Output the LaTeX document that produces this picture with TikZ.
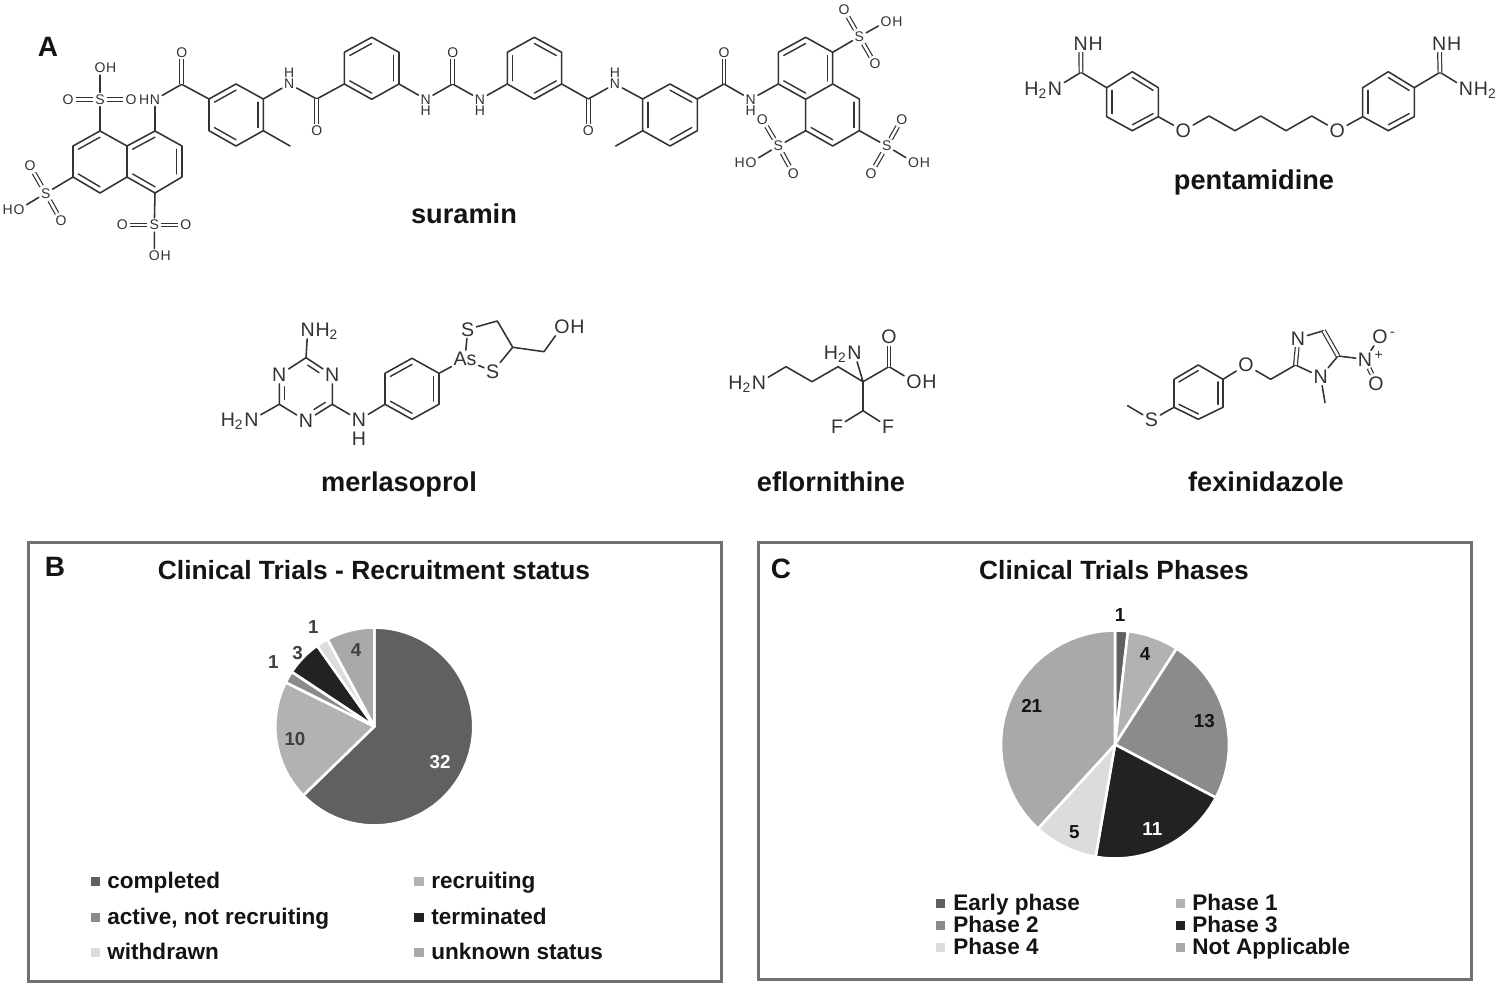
\documentclass[tikz,border=0pt]{standalone}
\usepackage{fontspec}
\setmainfont{Liberation Sans}
\usetikzlibrary{calc}
\definecolor{bondcol}{HTML}{333333}
\definecolor{txtcol}{HTML}{141414}
\definecolor{framecol}{HTML}{707070}
\definecolor{pdark}{HTML}{606060}
\definecolor{pmid}{HTML}{8B8B8B}
\definecolor{pblack}{HTML}{222222}
\definecolor{plight}{HTML}{DCDCDC}
\definecolor{pgrey}{HTML}{A9A9A9}
\definecolor{plgrey}{HTML}{B2B2B2}
\tikzset{
  bondst/.style={draw=bondcol,line width=.78pt,line cap=round,line join=round},
  dblb/.style={draw=bondcol,double=white,double distance=1.25pt,line width=.6pt},
  inner/.style={draw=bondcol,line width=.7pt,line cap=round},
  las/.style={inner sep=.9pt,text=bondcol,font=\fontsize{7}{8}\selectfont},
  lal/.style={inner sep=.9pt,text=bondcol,font=\fontsize{9.8}{11}\selectfont},
  sufs/.style={las,anchor=base west,inner sep=0pt,xshift=-.9pt},
  pres/.style={las,anchor=base east,inner sep=0pt,xshift=.9pt},
  sufl/.style={lal,anchor=base west,inner sep=0pt,xshift=-.9pt},
  prel/.style={lal,anchor=base east,inner sep=0pt,xshift=.9pt},
  drugname/.style={text=txtcol,anchor=base,inner sep=0pt,font=\bfseries\fontsize{13.6}{16}\selectfont},
  panelletter/.style={text=txtcol,anchor=base,inner sep=0pt,font=\bfseries\fontsize{14}{16}\selectfont},
  paneltitle/.style={text=txtcol,anchor=base,inner sep=0pt,font=\bfseries\fontsize{13.18}{16}\selectfont},
  frame/.style={draw=framecol,line width=1.5pt,fill=white},
  legtext/.style={text=txtcol,anchor=base west,inner sep=0pt,font=\bfseries\fontsize{11.27}{14}\selectfont},
  swatch/.style={minimum size=4.6pt,inner sep=0pt,draw=none},
  plabel/.style={inner sep=0pt,font=\bfseries\fontsize{9.4}{11}\selectfont},
  pieslice/.style={draw=white,line width=1.3pt,line join=round}
}
\newcommand{\co}[1]{\foreach \n/\x/\y in {#1}{\coordinate (\n) at (\x,\y);}}
% inner aromatic line of the bond a-b, towards ring centre c
\newcommand{\arom}[3]{\draw[inner] ($(#1)!.8!(#2)$) -- ($(#1)!.8!(#3)$);}
\newcommand{\aromp}[5]{\draw[inner] ($($(#1)!.8!(#2)$)!#4!($(#1)!.8!(#3)$)$) -- ($($(#1)!.8!(#2)$)!#5!($(#1)!.8!(#3)$)$);}
\newcommand{\slice}[6]{\fill[#6,pieslice] (#1,#2) -- plot[domain=#4:#5,samples=50] ({#1+#3*sin(\x)},{#2-#3*cos(\x)}) -- cycle;}
\begin{document}
\begin{tikzpicture}[x=.5pt,y=-.5pt]
\useasboundingbox (0,0) rectangle (1500,988);
\fill[white] (0,0) rectangle (1500,988);

% ---------- suramin, left naphthalene
\co{a1/155/131,a2/182/146,a3/182/177,a4/155/193,a5/127/177,a6/127/146,a7/100/131,a8/73/146,a9/73/177,a10/100/193,ca/155/162,cb/100/162}
\draw[bondst] (a1)--(a2)--(a3)--(a4)--(a5)--(a6)--(a1) (a6)--(a7)--(a8)--(a9)--(a10)--(a5);
\arom{ca}{a1}{a6}\arom{ca}{a2}{a3}\arom{ca}{a4}{a5}\arom{cb}{a7}{a8}\arom{cb}{a9}{a10}
\node[las] (s1) at (100,99.5) {S};
\node[las] (s1l) at (68,99.5) {O};
\node[las] (s1r) at (131,99.5) {O};
\node[las] (s1o) at (100,68) {O};
\node[sufs] (s1h) at (s1o.base east) {H};
\draw[bondst] (a7)--(s1) (s1)--(s1o);
\draw[dblb] (s1)--(s1l); \draw[dblb] (s1)--(s1r);
\node[las] (s2) at (45.7,193.3) {S};
\node[las] (s2u) at (30,166) {O};
\node[las] (s2d) at (61,220.7) {O};
\node[las] (s2o) at (19,209.3) {O};
\node[pres] (s2h) at (s2o.base west) {H};
\draw[bondst] (a9)--(s2) (s2)--(s2o);
\draw[dblb] (s2)--(s2u); \draw[dblb] (s2)--(s2d);
\node[las] (s3) at (154.3,225) {S};
\node[las] (s3l) at (122.3,225) {O};
\node[las] (s3r) at (185.7,225) {O};
\node[las] (s3o) at (154.3,255.7) {O};
\node[sufs] (s3h) at (s3o.base east) {H};
\draw[bondst] (a4)--(s3) (s3)--(s3o);
\draw[dblb] (s3)--(s3l); \draw[dblb] (s3)--(s3r);
\node[las] (n1) at (155,99.5) {N};
\node[pres] (n1h) at (n1.base west) {H};
\co{c1/181.7/84.3,b1/209/99,b2/236/84,b3/263.3/99,b4/263.3/130.7,b5/236/146,b6/209/130.7,cc/236/115,m1/290/146}
\node[las] (o1) at (181.7,52.3) {O};
\draw[bondst] (a1)--(n1) (n1)--(c1)--(b1)--(b2)--(b3)--(b4)--(b5)--(b6)--(b1) (b4)--(m1);
\draw[dblb] (c1)--(o1);
\arom{cc}{b1}{b2}\arom{cc}{b3}{b4}\arom{cc}{b5}{b6}
\node[las] (n2) at (289.3,84) {N};
\node[las] (n2h) at (289.3,72.7) {H};
\co{c2/316.7/99,d1/344.3/84,d2/344.3/52.3,d3/371.7/37.3,d4/399/52.3,d5/399/84,d6/371.7/99.3,cd/371.7/68.3}
\node[las] (o2) at (316.7,130.7) {O};
\draw[bondst] (b3)--(n2) (n2)--(c2)--(d1)--(d2)--(d3)--(d4)--(d5)--(d6)--(d1);
\draw[dblb] (c2)--(o2);
\arom{cd}{d2}{d3}\arom{cd}{d4}{d5}\arom{cd}{d6}{d1}
\node[las] (n3) at (425.7,99.3) {N};
\node[las] (n3h) at (425.7,111) {H};
\coordinate (c3) at (452.7,84);
\node[las] (o3) at (452.7,52.3) {O};
\node[las] (n4) at (480,99.3) {N};
\node[las] (n4h) at (480,111) {H};
\draw[bondst] (d5)--(n3) (n3)--(c3)--(n4);
\draw[dblb] (c3)--(o3);
% ---------- suramin, right half
\co{e1/507.3/84,e2/507.3/52.3,e3/534.3/37.3,e4/561.7/52.3,e5/561.7/84,e6/534.3/99.3,ce/534.5/68.3,c4/588.3/99}
\node[las] (o4) at (588.3,130.7) {O};
\draw[bondst] (n4)--(e1)--(e2)--(e3)--(e4)--(e5)--(e6)--(e1) (e5)--(c4);
\draw[dblb] (c4)--(o4);
\arom{ce}{e1}{e2}\arom{ce}{e3}{e4}\arom{ce}{e5}{e6}
\node[las] (n5) at (615,84) {N};
\node[las] (n5h) at (615,72.7) {H};
\co{f1/642.7/99,f2/670/84,f3/697.3/99,f4/697.3/130.7,f5/670/146,f6/642.7/130.7,cf/670/115,m2/615.7/146,c5/724/84}
\node[las] (o5) at (724,52.3) {O};
\draw[bondst] (c4)--(n5) (n5)--(f1)--(f2)--(f3)--(f4)--(f5)--(f6)--(f1) (f6)--(m2) (f3)--(c5);
\draw[dblb] (c5)--(o5);
\arom{cf}{f6}{f1}\arom{cf}{f2}{f3}\arom{cf}{f4}{f5}
\node[las] (n6) at (750.7,99.3) {N};
\node[las] (n6h) at (750.7,111) {H};
\co{g1/778.3/84,g2/778.3/52.3,g3/805.7/37.3,g4/832.7/52.3,g5/832.7/84,g6/805.7/99.3,g7/859.3/99,g8/859.3/130.7,g9/832.7/146,g10/805.7/130.7,cg/805.5/68.3,ch/832.7/115}
\draw[bondst] (c5)--(n6) (n6)--(g1)--(g2)--(g3)--(g4)--(g5)--(g6)--(g1) (g5)--(g7)--(g8)--(g9)--(g10)--(g6);
\arom{cg}{g2}{g3}\arom{cg}{g4}{g5}\arom{cg}{g6}{g1}\arom{ch}{g7}{g8}\arom{ch}{g9}{g10}
\node[las] (s4) at (859.3,36.7) {S};
\node[las] (s4u) at (844,10) {O};
\node[las] (s4d) at (875,64) {O};
\node[las] (s4o) at (886,21.7) {O};
\node[sufs] (s4h) at (s4o.base east) {H};
\draw[bondst] (g4)--(s4) (s4)--(s4o);
\draw[dblb] (s4)--(s4u); \draw[dblb] (s4)--(s4d);
\node[las] (s5) at (778.3,146) {S};
\node[las] (s5u) at (762.3,119.3) {O};
\node[las] (s5d) at (793.3,173.3) {O};
\node[las] (s5o) at (751,162.3) {O};
\node[pres] (s5h) at (s5o.base west) {H};
\draw[bondst] (g10)--(s5) (s5)--(s5o);
\draw[dblb] (s5)--(s5u); \draw[dblb] (s5)--(s5d);
\node[las] (s6) at (886.7,146) {S};
\node[las] (s6u) at (901.7,119.3) {O};
\node[las] (s6d) at (871,173.3) {O};
\node[las] (s6o) at (913.5,162.3) {O};
\node[sufs] (s6h) at (s6o.base east) {H};
\draw[bondst] (g8)--(s6) (s6)--(s6o);
\draw[dblb] (s6)--(s6u); \draw[dblb] (s6)--(s6d);

% ---------- pentamidine
\co{p1/1106.7/87.7,p2/1132.3/71.7,p3/1158.3/87.7,p4/1158.3/116.7,p5/1132.3/130.7,p6/1106.7/116.7,cp/1132.5/101.2,pc/1081/72.3}
\co{q1/1362.7/116.7,q2/1362.7/87.7,q3/1388.3/71.7,q4/1414.3/87.7,q5/1414.3/116.7,q6/1388.3/130.7,cq/1388.5/101.2,qc/1440/72.3}
\co{ch1/1209/116,ch2/1235/130.7,ch3/1260.7/116,ch4/1286/130.7,ch5/1311.7/116}
\node[lal] (pn1) at (1080.7,43.3) {N};
\node[sufl] (pn1h) at (pn1.base east) {H};
\node[lal] (pn2) at (1055,88.3) {N};
\node[prel] (pn2h) at (pn2.base west) {H\textsubscript{2}};
\node[lal] (po1) at (1183.3,130.7) {O};
\node[lal] (po2) at (1337.3,130.7) {O};
\node[lal] (qn1) at (1439.3,43.3) {N};
\node[sufl] (qn1h) at (qn1.base east) {H};
\node[lal] (qn2) at (1466,88.3) {N};
\node[sufl] (qn2h) at (qn2.base east) {H\textsubscript{2}};
\draw[bondst] (pn2)--(pc)--(p1)--(p2)--(p3)--(p4)--(p5)--(p6)--(p1) (p4)--(po1) (po1)--(ch1)--(ch2)--(ch3)--(ch4)--(ch5)--(po2) (po2)--(q1)--(q2)--(q3)--(q4)--(q5)--(q6)--(q1) (q4)--(qc)--(qn2);
\draw[dblb] (pc)--(pn1); \draw[dblb] (qc)--(qn1);
\arom{cp}{p1}{p6}\arom{cp}{p2}{p3}\arom{cp}{p4}{p5}
\arom{cq}{q1}{q2}\arom{cq}{q3}{q4}\arom{cq}{q5}{q6}

% ---------- merlasoprol
\co{t1/306/357.7,t3/332.3/404.3,t5/279.3/404.3,ct/306/389.5}
\node[lal] (t2) at (332.3,375) {N};
\node[lal] (t4) at (306,420.7) {N};
\node[lal] (t6) at (279.3,375) {N};
\node[lal] (tn1) at (307.7,330) {N};
\node[sufl] (tn1h) at (tn1.base east) {H\textsubscript{2}};
\node[lal] (tn2) at (251.5,420) {N};
\node[prel] (tn2h) at (tn2.base west) {H\textsubscript{2}};
\node[lal] (tn3) at (359,420) {N};
\node[lal] (tn3h) at (359,439) {H};
\co{u1/385/404.3,u2/385/373.3,u3/412/358.3,u4/439/373.3,u5/439/404.3,u6/412/419.3,cu/412/389}
\node[lal] (as) at (465,359.3) {As};
\node[lal] (ss1) at (467.7,329.3) {S};
\node[lal] (ss2) at (492.7,371.7) {S};
\co{v1/497.3/321,v2/512.7/347.3,v3/544/351.7}
\node[lal] (vo) at (562,326.7) {O};
\node[sufl] (voh) at (vo.base east) {H};
\draw[bondst] (tn1)--(t1) (t1)--(t2) (t2)--(t3) (t3)--(t4) (t4)--(t5) (t5)--(t6) (t6)--(t1);
\draw[bondst] (t5)--(tn2) (t3)--(tn3) (tn3)--(u1)--(u2)--(u3)--(u4)--(u5)--(u6)--(u1) (u4)--(as) (as)--(ss1) (as)--(ss2) (ss1)--(v1)--(v2)--(ss2) (v2)--(v3)--(vo);
\aromp{ct}{t1}{t2}{.08}{.62}\aromp{ct}{t3}{t4}{.08}{.62}\aromp{ct}{t5}{t6}{.08}{.62}
\arom{cu}{u2}{u3}\arom{cu}{u4}{u5}\arom{cu}{u6}{u1}

% ---------- eflornithine
\node[lal] (en1) at (759,382.7) {N};
\node[prel] (en1h) at (en1.base west) {H\textsubscript{2}};
\co{e1a/786/366.7,e2a/812/381.7,e3a/838/366.7,e4a/863/381.7,e5a/889/366.7,e6a/863/410.7}
\node[lal] (en2) at (854.5,353) {N};
\node[prel] (en2h) at (en2.base west) {H\textsubscript{2}};
\node[lal] (eo1) at (889,337) {O};
\node[lal] (eo2) at (914,381.7) {O};
\node[sufl] (eo2h) at (eo2.base east) {H};
\node[lal] (ef1) at (837,426.7) {F};
\node[lal] (ef2) at (888,426.7) {F};
\draw[bondst] (en1)--(e1a)--(e2a)--(e3a)--(e4a)--(e5a)--(eo2) (en2)--(e4a)--(e6a)--(ef1) (e6a)--(ef2);
\draw[dblb] (e5a)--(eo1);

% ---------- fexinidazole
\node[lal] (fs) at (1151.5,420) {S};
\coordinate (fm) at (1127.6,405.7);
\co{h1/1174/407.3,h2/1174/379.3,h3/1198.3/365,h4/1223/379.3,h5/1223/407.3,h6/1198.3/419.3,ch6/1198.5/392.5,fc1/1270.7/379.3,fc2/1295.5/365,fc3/1323.6/330.7,fc4/1338/356,fm2/1325/402.7}
\node[lal] (fo) at (1246,365) {O};
\node[lal] (fn1) at (1298,338.3) {N};
\node[lal] (fn2) at (1320.6,376.7) {N};
\node[lal] (fn3) at (1365,359.3) {N};
\node[las,anchor=base west,inner sep=0pt] (fplus) at ([yshift=3.5pt]fn3.base east) {+};
\node[lal] (fo1) at (1380,336.7) {O};
\node[las,anchor=base west,inner sep=0pt] (fminus) at ([yshift=3.5pt]fo1.base east) {-};
\node[lal] (fo2) at (1376,383.3) {O};
\draw[bondst] (fm)--(fs) (fs)--(h1)--(h2)--(h3)--(h4)--(h5)--(h6)--(h1) (h4)--(fo) (fo)--(fc1)--(fc2)--(fn2) (fn2)--(fc4)--(fn3) (fn2)--(fm2) (fn1)--(fc3);
\draw[dblb] (fc2)--(fn1); \draw[dblb] (fc3)--(fc4); \draw[dblb] (fn3)--(fo2);
\draw[bondst] (fn3)--(fo1);
\arom{ch6}{h2}{h3}\arom{ch6}{h4}{h5}\arom{ch6}{h6}{h1}

% ---------- names
\node[panelletter] (la) at (48,56.7) {A};
\node[drugname] (nsur) at (464,224) {suramin};
\node[drugname] (npen) at (1254,190) {pentamidine};
\node[drugname] (nmer) at (399,491.5) {merlasoprol};
\node[drugname] (nefl) at (831,491.5) {eflornithine};
\node[drugname] (nfex) at (1266,491.5) {fexinidazole};

% ---------- panel B
\draw[frame] (28.5,543) rectangle (721,981);
\node[panelletter] (lb) at (55,576.7) {B};
\node[paneltitle] (tb) at (374,580) {Clinical Trials - Recruitment status};
\slice{374.3}{726.5}{99}{0}{225.9}{pdark}
\slice{374.3}{726.5}{99}{225.9}{296.5}{plgrey}
\slice{374.3}{726.5}{99}{296.5}{303.5}{pmid}
\slice{374.3}{726.5}{99}{303.5}{324.7}{pblack}
\slice{374.3}{726.5}{99}{324.7}{331.8}{plight}
\slice{374.3}{726.5}{99}{331.8}{360}{pgrey}
\node[plabel,text=white] (b32) at (440,761.7) {32};
\node[plabel,text=black!75] (b4) at (356,650) {4};
\node[plabel,text=black!75] (b10) at (295,739) {10};
\node[plabel,text=black!75] (b1a) at (273.3,661.7) {1};
\node[plabel,text=black!75] (b3) at (297.7,653) {3};
\node[plabel,text=black!75] (b1b) at (313.3,627.3) {1};
\node[swatch,fill=pdark] (sb1) at (95.5,881.5) {};
\node[legtext] (tb1) at (107,888.3) {completed};
\node[swatch,fill=pmid] (sb2) at (95.5,917.5) {};
\node[legtext] (tb2) at (107,924) {active, not recruiting};
\node[swatch,fill=plight] (sb3) at (95.5,952.5) {};
\node[legtext] (tb3) at (107,959.3) {withdrawn};
\node[swatch,fill=plgrey] (sb4) at (419,881.5) {};
\node[legtext] (tb4) at (431,888.3) {recruiting};
\node[swatch,fill=pblack] (sb5) at (419,917.5) {};
\node[legtext] (tb5) at (431,924) {terminated};
\node[swatch,fill=pgrey] (sb6) at (419,952.5) {};
\node[legtext] (tb6) at (431,959.3) {unknown status};

% ---------- panel C
\draw[frame] (758,543) rectangle (1471,979);
\node[panelletter] (lc) at (781,579) {C};
\node[paneltitle] (tc) at (1114,580) {Clinical Trials Phases};
\slice{1115}{744.5}{114}{0}{6.5}{pdark}
\slice{1115}{744.5}{114}{6.5}{32.7}{plgrey}
\slice{1115}{744.5}{114}{32.7}{117.8}{pmid}
\slice{1115}{744.5}{114}{117.8}{189.8}{pblack}
\slice{1115}{744.5}{114}{189.8}{222.5}{plight}
\slice{1115}{744.5}{114}{222.5}{360}{pgrey}
\node[plabel,text=txtcol] (c1l) at (1120,615) {1};
\node[plabel,text=txtcol] (c4l) at (1145,654) {4};
\node[plabel,text=txtcol] (c13) at (1204.3,720.7) {13};
\node[plabel,text=white] (c11) at (1152.3,829.3) {11};
\node[plabel,text=txtcol] (c5l) at (1074.3,831.7) {5};
\node[plabel,text=txtcol] (c21) at (1031.7,706) {21};
\node[swatch,fill=pdark] (sc1) at (940.5,903.5) {};
\node[legtext] (tc1) at (953,910.7) {Early phase};
\node[swatch,fill=pmid] (sc2) at (940.5,925.5) {};
\node[legtext] (tc2) at (953,932.3) {Phase 2};
\node[swatch,fill=plight] (sc3) at (940.5,947.5) {};
\node[legtext] (tc3) at (953,954.3) {Phase 4};
\node[swatch,fill=plgrey] (sc4) at (1180.5,903.5) {};
\node[legtext] (tc4) at (1192,910.7) {Phase 1};
\node[swatch,fill=pblack] (sc5) at (1180.5,925.5) {};
\node[legtext] (tc5) at (1192,932.3) {Phase 3};
\node[swatch,fill=pgrey] (sc6) at (1180.5,947.5) {};
\node[legtext] (tc6) at (1192,954.3) {Not Applicable};
\end{tikzpicture}
\end{document}
